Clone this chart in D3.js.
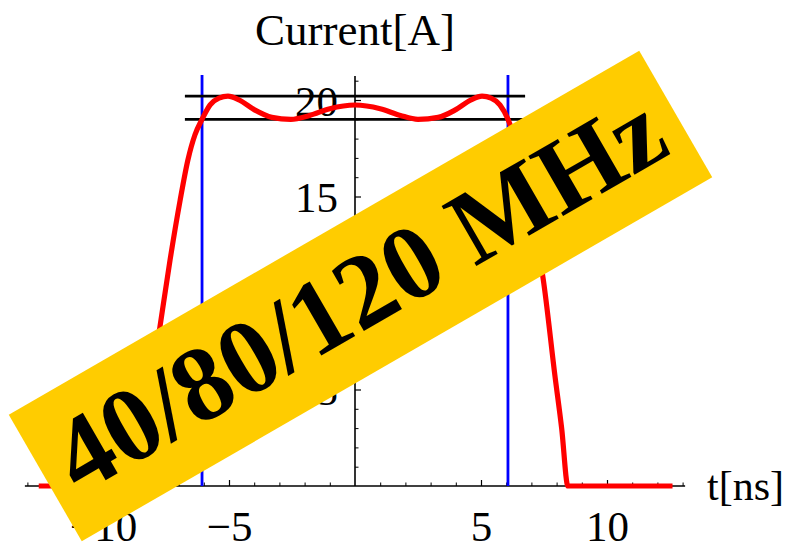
<!DOCTYPE html>
<html>
<head>
<meta charset="utf-8">
<script src="https://cdn.jsdelivr.net/npm/d3@7"></script>
<style>
  html, body { margin: 0; padding: 0; background: #fff; }
  svg { display: block; }
  text { font-family: "Liberation Serif", "Times New Roman", serif; }
</style>
</head>
<body>
<svg id="chart" width="789" height="545"></svg>
<script>
// ---- data ----
const timeNs = [-12.55, -8.68, -8.2, -7.74, -7.34, -6.94, -6.63, -6.35, -6.07, -5.75, -5.4, -5.04, -4.6, -4.0, -3.3, -2.55, -1.8, -1.0, 0,
                1.0, 1.8, 2.5, 3.3, 4.0, 4.6, 5.04, 5.4, 5.75, 6.07, 6.4, 6.8, 7.1, 7.46, 7.94, 8.2, 8.45, 12.6];
const currentA = [0, 0, 4.3, 8.24, 11.7, 14.8, 16.9, 18.2, 19.0, 19.75, 20.1, 20.2, 20.0, 19.5, 19.1, 19.0, 19.2, 19.55, 19.74,
                19.55, 19.2, 19.0, 19.1, 19.5, 20.0, 20.2, 20.1, 19.75, 19.0, 17.7, 15.4, 13.4, 10.8, 5.65, 3.0, 0, 0];
const flatTopLimits = [20.2, 19.0];        // black horizontal lines
const flatTopSpan = [-6.75, 6.75];
const flatTopEdges = [-6.07, 6.07];        // blue vertical lines
const blueTop = 21.3;
const xTickValues = [-10, -5, 5, 10];
const xTickLabels = ["\u221210", "\u22125", "5", "10"];
const yTickValues = [5, 10, 15, 20];
const yTickLabels = ["5", "10", "15", "20"];
const xMinor = d3.range(-13, 14).filter(d => d !== 0 && d % 5 !== 0);
const yMinor = d3.range(1, 22).filter(d => d % 5 !== 0);
const xAxisExtent = [-13.1, 13.1];
const yAxisTop = 21.25;
const yTitle = "Current[A]";
const xTitle = "t[ns]";
const bannerText = "40/80/120 MHz";

// ---- scales ----
const x0 = 355, xu = 25.2, y0 = 486, yu = 19.3;
const x = d3.scaleLinear().domain([-14, 14]).range([x0 - 14 * xu, x0 + 14 * xu]);
const y = d3.scaleLinear().domain([0, 20]).range([y0, y0 - 20 * yu]);

const svg = d3.select("#chart");

// axis lines
svg.append("line").attr("x1", x(xAxisExtent[0])).attr("x2", x(xAxisExtent[1]))
  .attr("y1", y(0)).attr("y2", y(0)).attr("stroke", "#000").attr("stroke-width", 1.6);
svg.append("line").attr("x1", x(0)).attr("x2", x(0))
  .attr("y1", y(0)).attr("y2", y(yAxisTop)).attr("stroke", "#000").attr("stroke-width", 1.6);

// x axis ticks
const gx = svg.append("g").attr("transform", `translate(0,${y(0)})`)
  .call(d3.axisBottom(x).tickValues(xTickValues).tickSize(-6).tickPadding(24)
    .tickFormat((d, i) => xTickLabels[i]));
gx.select(".domain").remove();
gx.selectAll("line").attr("stroke", "#000").attr("stroke-width", 1.2);
gx.selectAll("text").attr("font-size", 43).attr("font-family", "Liberation Serif, serif").attr("fill", "#000");
const gxm = svg.append("g").attr("transform", `translate(0,${y(0)})`)
  .call(d3.axisBottom(x).tickValues(xMinor).tickSize(-3.5).tickFormat(""));
gxm.select(".domain").remove();
gxm.selectAll("line").attr("stroke", "#000").attr("stroke-width", 1);

// y axis ticks
const gy = svg.append("g").attr("transform", `translate(${x(0)},0)`)
  .call(d3.axisLeft(y).tickValues(yTickValues).tickSize(-6).tickPadding(17)
    .tickFormat((d, i) => yTickLabels[i]));
gy.select(".domain").remove();
gy.selectAll("line").attr("stroke", "#000").attr("stroke-width", 1.2);
gy.selectAll("text").attr("font-size", 43).attr("dy", "0.36em").attr("font-family", "Liberation Serif, serif").attr("fill", "#000");
const gym = svg.append("g").attr("transform", `translate(${x(0)},0)`)
  .call(d3.axisLeft(y).tickValues(yMinor).tickSize(-3.5).tickFormat(""));
gym.select(".domain").remove();
gym.selectAll("line").attr("stroke", "#000").attr("stroke-width", 1);

// titles
svg.append("text").attr("x", x(0)).attr("y", 45).attr("text-anchor", "middle")
  .attr("font-size", 45).attr("fill", "#000").text(yTitle);
svg.append("text").attr("x", 707).attr("y", 500).attr("text-anchor", "start")
  .attr("font-size", 42).attr("fill", "#000").text(xTitle);

// blue vertical lines
svg.selectAll("line.edge").data(flatTopEdges).enter().append("line")
  .attr("class", "edge")
  .attr("x1", d => x(d)).attr("x2", d => x(d))
  .attr("y1", y(0)).attr("y2", y(blueTop))
  .attr("stroke", "#0000ff").attr("stroke-width", 2.8);

// black horizontal lines
svg.selectAll("line.limit").data(flatTopLimits).enter().append("line")
  .attr("class", "limit")
  .attr("x1", x(flatTopSpan[0])).attr("x2", x(flatTopSpan[1]))
  .attr("y1", d => y(d)).attr("y2", d => y(d))
  .attr("stroke", "#000").attr("stroke-width", 2.8);

// red curve
const pts = timeNs.map((t, i) => [t, currentA[i]]);
svg.append("path").datum(pts)
  .attr("d", d3.line().x(d => x(d[0])).y(d => y(d[1])).curve(d3.curveMonotoneX))
  .attr("fill", "none").attr("stroke", "#ff0000").attr("stroke-width", 5.2)
  .attr("stroke-linejoin", "miter");

// banner
const bw = 728, bh = 146;
const banner = svg.append("g").attr("transform", "translate(360.5,296) rotate(-30)");
banner.append("rect").attr("x", -bw / 2).attr("y", -bh / 2).attr("width", bw).attr("height", bh)
  .attr("fill", "#ffcc00");
banner.append("text").attr("x", 0).attr("y", 32).attr("text-anchor", "middle")
  .attr("font-size", 106).attr("font-weight", "bold").attr("fill", "#000")
  .text(bannerText);
</script>
</body>
</html>
